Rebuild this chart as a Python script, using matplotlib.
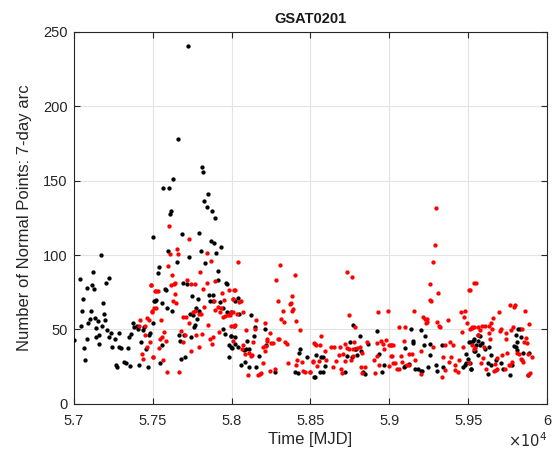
import matplotlib
matplotlib.use("Agg")
import matplotlib.pyplot as plt
from matplotlib.ticker import FixedLocator, FuncFormatter

plt.rcParams['font.family'] = ['Liberation Sans', 'DejaVu Sans']

title = "GSAT0201"
xlabel = "Time [MJD]"
ylabel = "Number of Normal Points: 7-day arc"
xticks = [57000, 57500, 58000, 58500, 59000, 59500, 60000]
yticks = [0, 50, 100, 150, 200, 250]

black_mjd = [
    57503, 57170, 57036, 57121, 57085, 57112, 57127, 57220, 57203, 57057, 57182, 57051, 57106, 57189,
    57102, 57136, 57151, 57197, 57091, 57043, 57176, 57138, 57212, 57377, 57381, 57398, 57406, 57436,
    57445, 57002, 57081, 57138, 57161, 57225, 57233, 57258, 57288, 57360, 57351, 57157, 57064, 57241,
    57284, 57296, 57343, 57423, 57478, 57483, 57072, 57457, 57267, 57275, 57318, 57330, 57356, 57415,
    57470, 57508,
    57687, 57793, 57867, 57888, 57930, 57596, 57803, 57901, 57729, 57651, 57833, 57539, 57533, 57913,
    57916, 57693, 57715, 57962, 57973, 57575, 57584, 57522, 57512, 57556, 57748, 57787, 57854, 57884,
    57863, 57880, 57926, 57943, 57592, 57622, 57774, 57795, 57738, 57757, 57782, 57761, 57768, 57973,
    57998, 57499, 57668, 57700, 57672, 57740, 57943, 57956, 57994, 57985, 58002, 57560, 57981, 57677,
    57706, 57545,
    58037, 58020, 58049, 58015, 58121, 58147, 58210, 57998, 58020, 58142, 58100, 57998, 58037, 58020,
    58079, 58092, 58108, 58172, 58218, 58058, 58087, 58113, 58155, 58273, 58434, 58426, 58476, 58400,
    58421, 58523,
    58768, 58814, 58924, 58751, 58780, 58789, 58819, 58865, 58535, 58569, 58582, 58734, 58763, 58797,
    58933, 58590, 58560, 58577, 58527, 58721, 58835, 58848, 58967, 58954,
    59136, 59204, 59229, 59153, 59149, 59221, 59259, 59331, 59098, 59255, 59504, 59517, 59530, 59534,
    59487, 59496, 59487, 59483, 59470, 59521, 59090, 59102, 59123, 59162, 59183, 59200, 59208, 59246,
    59297, 59301, 59343,
    59513, 59521, 59560, 59576, 59538, 59589, 59576, 59564, 59551, 59543, 59560, 59631, 59610, 59818,
    59826, 59805, 59834, 59809, 59792, 59801, 59813, 59851, 59885, 59648, 59623, 59623, 59678, 59708,
    59648, 59724, 59780, 59763, 59877,
    57723, 57660, 57812, 57820, 57630, 57567, 57602, 57848, 57825, 57841, 57875, 57613, 57609, 57896,
]
black_np = [
    112, 100, 83.7, 88.7, 77.7, 79.7, 77.5, 84.9, 81.1, 70.5, 67.8, 62.7, 62.7, 60.5,
    57.3, 57.5, 55.7, 56.4, 54.6, 52.6, 52.4, 50.8, 49.7, 54.2, 51.9, 52.4, 50.2, 49.7,
    51.9, 43, 43.9, 44.8, 46.3, 45.2, 47.5, 43.4, 47.5, 47.0, 44.8, 40.3, 37.6, 38.5,
    38.5, 37.6, 37.4, 41.9, 46.3, 47.5, 29.5, 36.7, 26.2, 24.6, 28, 27.3, 25.5, 26.4,
    24.6, 69.4,
    113.8, 114.7, 109.7, 108, 105.7, 103, 102.6, 101.7, 99, 95.4, 94.5, 91.8, 87.8, 89.6,
    83.3, 81.5, 80.6, 81.1, 80.6, 77.5, 76.6, 69.9, 69.4, 67.6, 72.5, 70.3, 73, 73.4,
    69.4, 69.4, 68.5, 64.5, 64.5, 62.7, 64.5, 62.3, 60.5, 59.6, 56.9, 51.9, 52.8, 61.4,
    61.8, 54.6, 46.6, 46.6, 42.5, 45.2, 50.2, 47, 45.7, 39.4, 37.6, 39.4, 31.3, 30.4,
    31.3, 27.3,
    71.2, 69.4, 60.5, 52.4, 59.6, 51.5, 50.6, 45.7, 45.2, 45.7, 42.5, 38.1, 38.1, 39.9,
    36.3, 37.2, 37.2, 32.2, 39.4, 26.4, 28.2, 24.6, 24.6, 21.5, 36.7, 34, 31.3, 21.5,
    20.6, 18.3,
    52.8, 45.7, 48.8, 41.6, 36.7, 37.2, 35.8, 40.3, 32.7, 31.8, 31.8, 32.2, 31.8, 32.7,
    33.6, 25.5, 21.5, 21.5, 18.3, 21.5, 21.5, 20.1, 26.4, 21.5,
    50.6, 49.7, 45.7, 42.1, 41.2, 39.4, 40.3, 39.4, 37.6, 32.7, 41.6, 41.6, 42.1, 35.4,
    33.6, 30.4, 27.3, 26, 24.6, 23.7, 25.1, 25.5, 26.9, 23.7, 23.7, 22.4, 22.4, 24.6,
    26.4, 22.4, 24.6,
    27.3, 23.7, 46.1, 45.7, 43.9, 40.7, 39.4, 42, 39.4, 35.8, 33.1, 38.5, 37.2, 50.2,
    50.2, 46.6, 44.8, 41.6, 38.9, 38.5, 36.3, 34.5, 34.5, 32.7, 27.7, 20.1, 29.5, 27.7,
    26, 23.7, 26.4, 19.2, 19.2,
    240.3, 178, 159, 155.9, 151, 145, 145, 140.9, 136, 132, 129.9, 129.9, 127.9, 124.7,
]

red_mjd = [
    57489, 57512, 57508, 57495, 57419, 57461, 57478, 57415, 57453, 57449, 57483, 57466, 57432, 57440,
    57504,
    57729, 57651, 57609, 57660, 57842, 57867, 57596, 57799, 57622, 57897, 57719, 57490, 57617, 57634,
    57643, 57744, 57765, 57846, 57816, 57981, 57520, 57533, 57643, 57939, 57888, 58015, 57952, 58007,
    57630, 57647, 57825, 57913, 57935, 57897, 57495, 57520, 57753, 57770, 57791, 57808, 57926, 57947,
    57960, 57977, 57990, 57693, 57710, 57732, 57554, 57850, 57994, 58015, 57571, 57677, 57702, 57774,
    57810, 57922, 57558, 57545, 57584, 57863, 57884, 57876, 57693, 57795, 57537, 57744, 57503, 57567,
    57588, 57664,
    58037, 58307, 58400, 58282, 58020, 58007, 58049, 58058, 58383, 58295, 58367, 58375, 58328, 58392,
    58383, 57998, 58007, 58070, 58032, 58316, 58333, 58405, 58155, 58210, 58020, 58151, 58092, 58434,
    58240, 58227, 58227, 58295, 58303, 58341, 58350, 58011, 58138, 58075, 58197, 58218, 58252, 58265,
    58523, 58066, 58113, 58130, 58125, 58214, 58087, 58417, 58443, 58358, 58409, 58201, 58519, 58244,
    58273, 58455, 58464, 58498, 58104, 58168, 58180, 58189,
    58734, 58763, 58742, 58785, 58928, 58992, 58569, 58527, 58535, 58560, 58628, 58649, 58687, 58721,
    58730, 58747, 58776, 58768, 58793, 58814, 58861, 58924, 58945, 58979, 58962, 59000, 59013, 58967,
    58590, 58683, 58708, 58772, 58827, 58920, 59013, 58514, 58552, 58598, 58662, 58717, 58755, 58903,
    58539, 58645, 58692, 58819, 58844, 58937, 59000, 59026, 58497, 58700, 58827, 58912,
    59288, 59280, 59255, 59310, 59259, 59267, 59157, 59212, 59225, 59238, 59233, 59242, 59305, 59314,
    59322, 59373, 59504, 59538, 59453, 59483, 59475, 59491, 59512, 59525, 59462, 59064, 59098, 59094,
    59013, 59026, 59276, 59356, 59386, 59407, 59470, 59525, 59538, 59200, 59123, 59145, 59018, 59077,
    59339, 59394, 59162, 59081, 59035, 59381, 59415, 59445, 59508, 59111, 59123, 59047, 59060, 59352,
    59415, 59437, 59204, 59331,
    59547, 59513, 59763, 59796, 59788, 59860, 59695, 59657, 59644, 59885, 59526, 59534, 59560, 59589,
    59606, 59631, 59653, 59708, 59699, 59572, 59784, 59771, 59839, 59741, 59631, 59564, 59737, 59640,
    59868, 59856, 59873, 59543, 59598, 59712, 59746, 59809, 59822, 59877, 59902, 59593, 59686, 59780,
    59834, 59843, 59847, 59581, 59670, 59758, 59614, 59674, 59665, 59686, 59733, 59767, 59881, 59890,
    57602, 59295,
]
red_np = [
    79.7, 75.9, 64.5, 61.6, 56.4, 57.5, 56.4, 52.4, 52.4, 46.1, 41.4, 38, 33.6, 30.4,
    31.8,
    110.6, 103.9, 100.8, 100.8, 101.7, 95.8, 92.7, 88.7, 86.9, 82.4, 82.9, 79.7, 79.7, 80.6,
    81.5, 80.6, 80.6, 81.1, 77.5, 76.6, 75.6, 75.6, 73.9, 74.8, 69.4, 76.6, 69.9, 70.3,
    69, 68.1, 65.4, 64.9, 64.5, 63.1, 62.3, 64.5, 61.8, 62.3, 60.5, 60.5, 61.4, 58.2,
    59.1, 59.6, 60, 58.7, 58.7, 54.6, 56.4, 53.3, 52.4, 52.4, 48.3, 49.3, 46.6, 46.6,
    47, 48.3, 45.2, 43.4, 42.5, 43.9, 44.8, 40.3, 41.6, 38.5, 37.6, 35.4, 31.8, 29.5,
    21.5, 21.5,
    95, 93.6, 86.9, 82.9, 76.6, 70.8, 68.5, 69.4, 72.5, 69, 67.2, 68.1, 62.7, 63.6,
    62.7, 61.4, 61.8, 61.8, 60.5, 56.9, 55.1, 55.5, 56.4, 54.6, 52.8, 50.6, 49.7, 49.7,
    47.9, 43.4, 42.1, 43.4, 43.4, 41.6, 40.3, 42.5, 41.6, 39.4, 38.5, 38.9, 40.7, 40.7,
    40.7, 37.2, 34.5, 33.1, 32.2, 35.4, 33.6, 29.5, 28.2, 27.3, 26.4, 27.3, 28.2, 22.4,
    23.7, 22.4, 21.5, 21.5, 19.7, 19.2, 20.1, 20.6,
    88.7, 85.5, 59.6, 51.5, 61.8, 62.7, 45.7, 40.3, 39.4, 39.4, 38.5, 38.5, 38.5, 40.3,
    37.6, 36.7, 41.6, 36.7, 37.6, 38.5, 41.6, 41.2, 42.5, 43, 40.3, 39.4, 39.4, 36.7,
    35.4, 32.7, 33.6, 32.2, 34.5, 32.2, 32.2, 28.6, 29.1, 29.5, 29.1, 28.6, 29.5, 29.5,
    25.5, 24.6, 23.7, 24.6, 24.6, 26.4, 25.5, 27.3, 21.5, 20.6, 20.6, 20.6,
    106.6, 95, 80.6, 74.8, 69.9, 69, 62.7, 58.2, 57.3, 57.3, 54.2, 55.1, 55.1, 52.4,
    51.5, 56.4, 76.6, 81.5, 61.8, 62.7, 58.7, 54.6, 50.2, 51, 48.3, 51.5, 51.5, 42.5,
    39.4, 39.4, 38.5, 39.4, 41.6, 39.4, 38.5, 39.4, 37.2, 35.4, 33.6, 33.6, 32.2, 32.2,
    31.3, 31.3, 29.5, 28.2, 27.3, 28.2, 26.4, 29.5, 27.8, 26.4, 26, 23.7, 23.7, 22.8,
    22.8, 21.5, 20.1, 18.3,
    81.5, 76.6, 66.7, 66.7, 65.4, 62.7, 61.8, 57.8, 54.6, 53.7, 51.9, 51.5, 51.5, 52.4,
    52.4, 52.4, 50.6, 50.2, 48.8, 49.7, 51.5, 49.7, 50.6, 47.9, 47.5, 46.1, 43.4, 43.4,
    44.3, 41.6, 41.2, 37.6, 38.1, 32.7, 34.5, 34, 33.6, 33.6, 31.3, 30.9, 30.9, 28.2,
    30, 29.5, 28.2, 27.3, 26.9, 26.4, 23.7, 22.8, 21.9, 23.3, 23.7, 26.4, 19.7, 20.6,
    119.6, 131.7,
]

fig = plt.figure(figsize=(5.59, 4.54), dpi=100)
ax = fig.add_axes([0.1324, 0.1104, 0.8461, 0.8196])

ax.plot(black_mjd, black_np, 'o', color='black', markersize=3.1, markeredgewidth=0, zorder=3)
ax.plot(red_mjd, red_np, 'o', color='red', markersize=3.1, markeredgewidth=0, zorder=3)

ax.set_xlim(57000, 60000)
ax.set_ylim(0, 250)
ax.xaxis.set_major_locator(FixedLocator(xticks))
ax.yaxis.set_major_locator(FixedLocator(yticks))
ax.xaxis.set_major_formatter(FuncFormatter(lambda v, p: f"{v/1e4:g}"))
ax.grid(True, color='#e3e3e3', linewidth=0.8, zorder=0)
ax.set_axisbelow(True)
for s in ax.spines.values():
    s.set_color('#262626')
    s.set_linewidth(0.8)
ax.tick_params(direction='in', length=4, width=0.8, colors='#262626', labelsize=10.5,
               top=True, right=True, labelcolor='#262626')
ax.tick_params(axis='x', pad=7)
ax.tick_params(axis='y', pad=4.5)
ax.set_xlabel(xlabel, fontsize=12, color='#262626', labelpad=3)
ax.set_ylabel(ylabel, fontsize=12, color='#262626', labelpad=8)
ax.set_title(title, fontsize=10.5, fontweight='bold', color='#1a1a1a', pad=6)
ax.text(1.0, -0.075, r'$\times10^{4}$', transform=ax.transAxes, ha='right', va='top',
        fontsize=10.5, color='#262626')

fig.savefig('out.png', dpi=100)
